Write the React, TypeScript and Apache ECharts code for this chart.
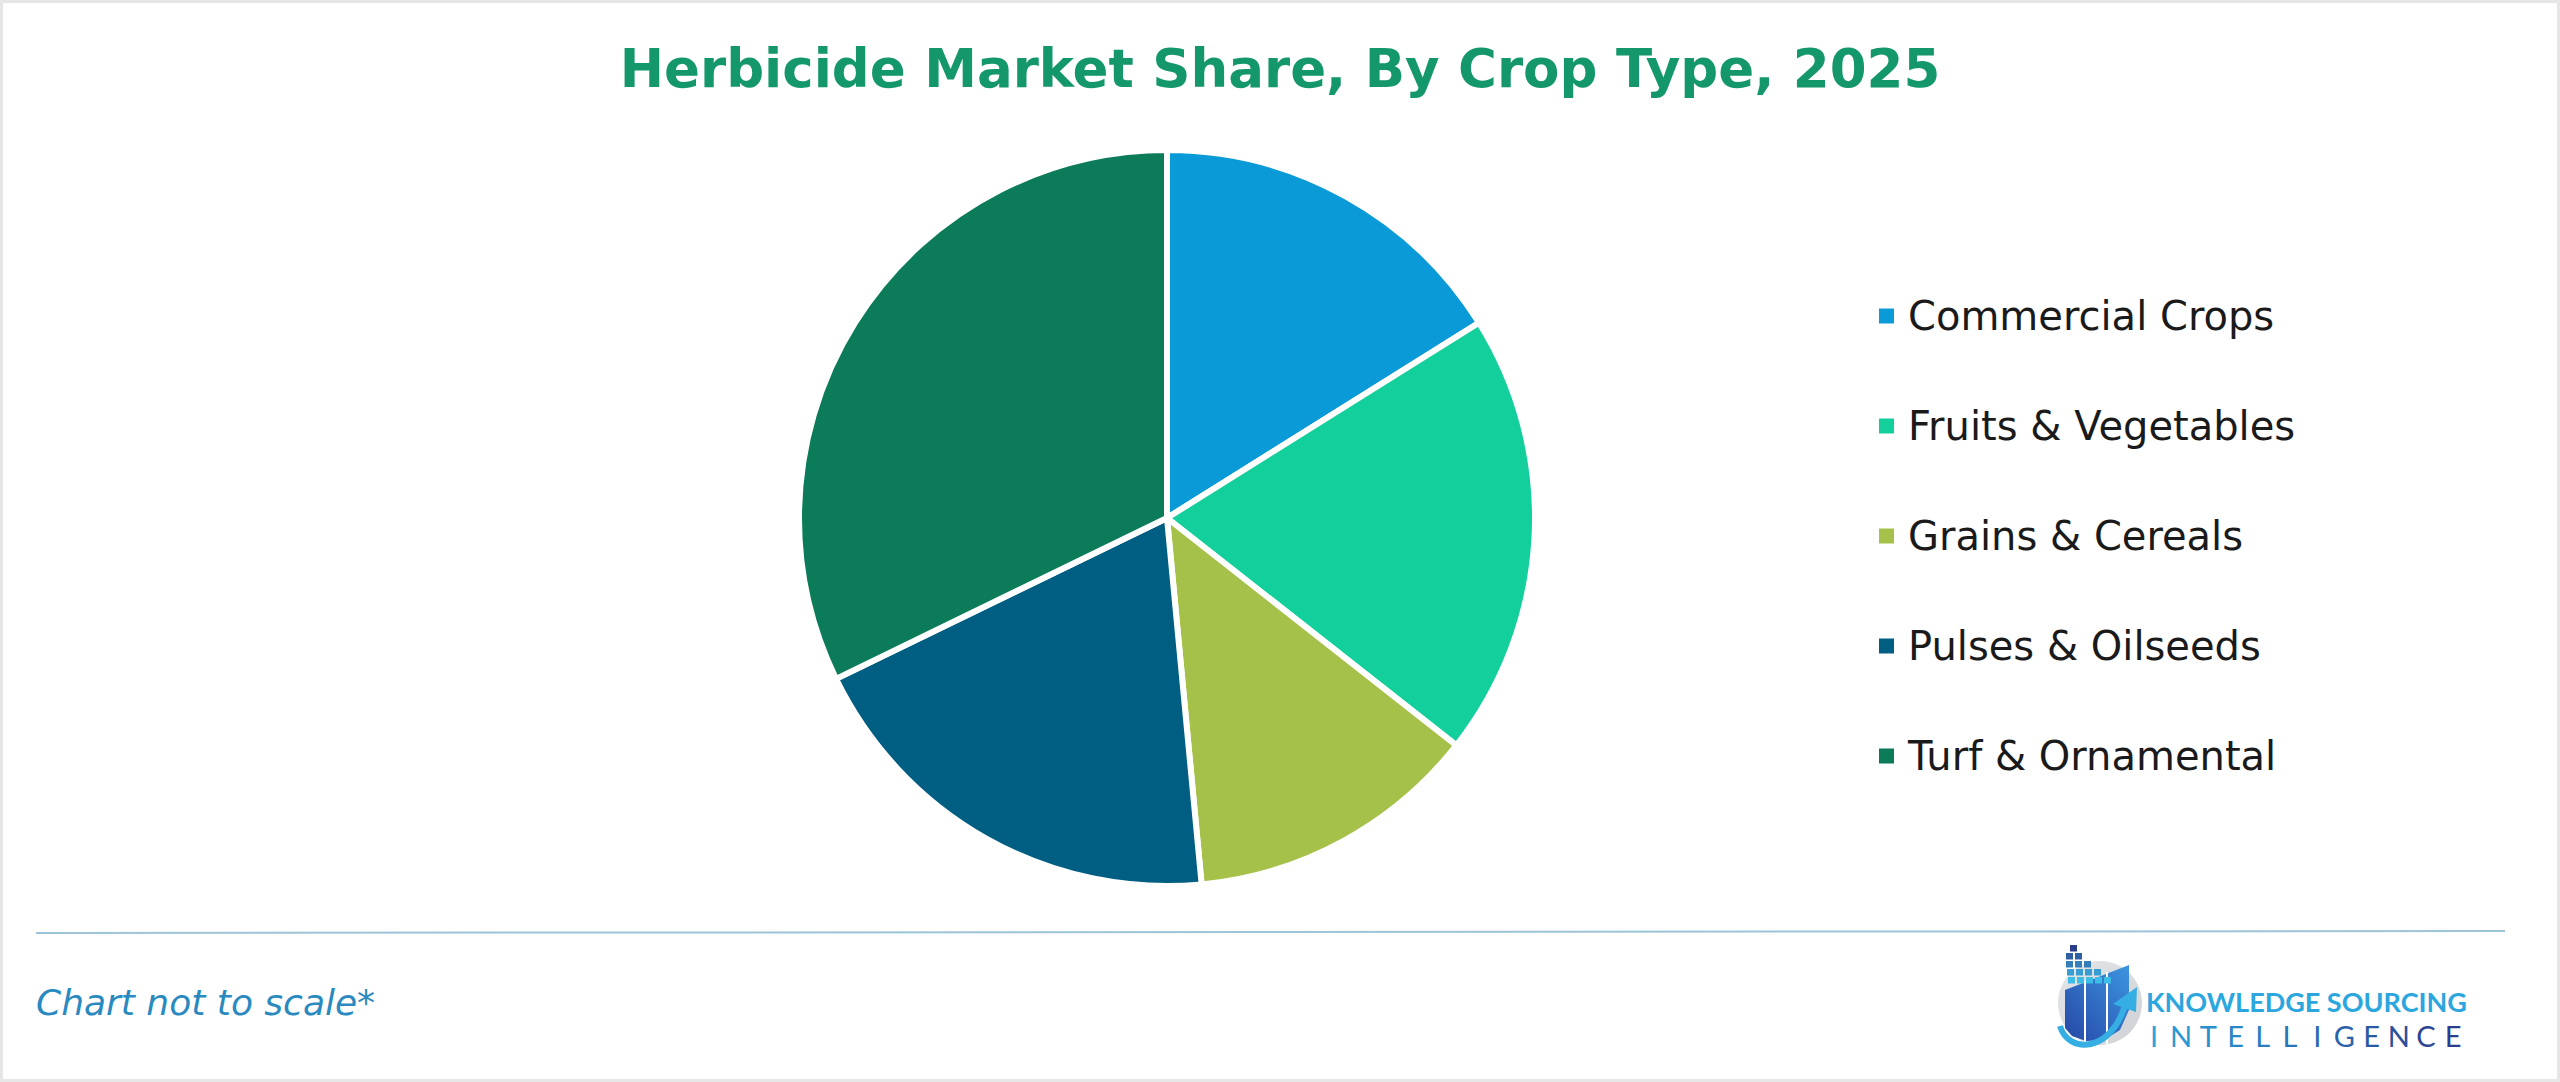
import React, { useEffect, useRef } from "react";
import * as echarts from "echarts";

const titleText = "Herbicide Market Share, By Crop Type, 2025";
const categories = [
  "Commercial Crops",
  "Fruits & Vegetables",
  "Grains & Cereals",
  "Pulses & Oilseeds",
  "Turf & Ornamental",
];
const shares = [16.1, 19.5, 12.9, 19.3, 32.2];
const colors = ["#0A9AD7", "#13CF9B", "#A5C14A", "#005E82", "#0B7B59"];
const footnote = "Chart not to scale*";
const brandTop = "KNOWLEDGE SOURCING";
const brandBottom = "INTELLIGENCE";

function lerpColor(a: string, b: string, t: number) {
  const pa = [1, 3, 5].map((i) => parseInt(a.slice(i, i + 2), 16));
  const pb = [1, 3, 5].map((i) => parseInt(b.slice(i, i + 2), 16));
  const c = pa.map((v, i) => Math.round(v + (pb[i] - v) * t));
  return "rgb(" + c.join(",") + ")";
}

export default function App() {
  const ref = useRef<HTMLDivElement>(null);
  useEffect(() => {
    if (!ref.current) return;
    const chart = echarts.init(ref.current, undefined, { renderer: "svg" });

    const logo: any[] = [];
    logo.push({
      type: "circle",
      shape: { cx: 2100, cy: 1003, r: 42 },
      style: {
        fill: new echarts.graphic.LinearGradient(0, 0, 1, 1, [
          { offset: 0, color: "#e4e5e8" },
          { offset: 1, color: "#cfd1d5" },
        ]),
      },
    });
    logo.push({
      type: "polygon",
      shape: {
        points: [
          [2065, 990],
          [2129, 965],
          [2129, 1010],
          [2120, 1030],
          [2104, 1040],
          [2086, 1041],
          [2072, 1036],
          [2065, 1028],
        ],
      },
      style: {
        fill: new echarts.graphic.LinearGradient(0, 1, 1, 0, [
          { offset: 0, color: "#2646a6" },
          { offset: 1, color: "#3c96e0" },
        ]),
      },
    });
    [2085, 2107].forEach((x) => {
      logo.push({
        type: "line",
        shape: { x1: x, y1: x === 2085 ? 981 : 972, x2: x, y2: 1044 },
        style: { stroke: "#ffffff", lineWidth: 2 },
      });
    });
    const rows = [
      { y: 945, xs: [2070] },
      { y: 953, xs: [2066, 2075] },
      { y: 961, xs: [2066, 2075, 2084] },
      { y: 969, xs: [2067, 2076, 2085, 2094] },
      { y: 977, xs: [2068, 2077, 2086, 2095, 2104] },
    ];
    rows.forEach((r, ri) => {
      r.xs.forEach((x) => {
        logo.push({
          type: "rect",
          shape: { x, y: r.y, width: 7, height: 6.5 },
          style: { fill: lerpColor("#2b3e8e", "#3cbde8", ri / 4) },
        });
      });
    });
    logo.push({
      type: "bezierCurve",
      shape: {
        x1: 2060,
        y1: 1026,
        cpx1: 2068,
        cpy1: 1054,
        cpx2: 2112,
        cpy2: 1054,
        x2: 2126,
        y2: 1002,
      },
      style: { stroke: "#35aee4", lineWidth: 6, fill: null },
    });
    logo.push({
      type: "polygon",
      shape: {
        points: [
          [2137, 987],
          [2113, 1004],
          [2136, 1012],
        ],
      },
      style: { fill: "#35aee4" },
    });
    logo.push({
      type: "text",
      x: 2146,
      y: 1001,
      style: {
        text: brandTop,
        fontSize: 27,
        fontWeight: "bold",
        fontFamily: "Lato",
        fill: "#2ba6de",
        textVerticalAlign: "middle",
        textAlign: "left",
      },
    });
    const letters = brandBottom.split("");
    letters.forEach((ch, i) => {
      logo.push({
        type: "text",
        x: 2154 + i * 27.2,
        y: 1035,
        style: {
          text: ch,
          fontSize: 29,
          fontFamily: "Lato",
          fill: lerpColor("#2aa3dc", "#2b3d8c", i / (letters.length - 1)),
          textVerticalAlign: "middle",
          textAlign: "center",
        },
      });
    });

    chart.setOption({
      animation: false,
      backgroundColor: "#ffffff",
      title: {
        text: titleText,
        left: "center",
        top: 37,
        textStyle: {
          fontFamily: "DejaVu Sans",
          fontWeight: "bold",
          fontSize: 53,
          color: "#14986B",
        },
      },
      legend: {
        orient: "vertical",
        left: 1872,
        top: 291,
        itemWidth: 17,
        itemHeight: 17,
        itemGap: 70,
        icon: "rect",
        selectedMode: false,
        data: categories,
        textStyle: {
          fontFamily: "DejaVu Sans",
          fontSize: 40,
          lineHeight: 40,
          color: "#1a1a1a",
          padding: [0, 0, 0, 8],
        },
      },
      color: colors,
      series: [
        {
          type: "pie",
          center: [1167, 518],
          radius: 368,
          startAngle: 90,
          clockwise: true,
          label: { show: false },
          labelLine: { show: false },
          emphasis: { disabled: true },
          itemStyle: { borderColor: "#ffffff", borderWidth: 6 },
          data: categories.map((c, i) => ({ name: c, value: shares[i] })),
        },
      ],
      graphic: [
        {
          type: "rect",
          shape: { x: 1.5, y: 1.5, width: 2557, height: 1079 },
          style: { fill: null, stroke: "#e6e6e6", lineWidth: 3 },
          silent: true,
        },
        {
          type: "line",
          shape: { x1: 36, y1: 933, x2: 2505, y2: 931 },
          style: { stroke: "#9cc3d8", lineWidth: 2 },
        },
        {
          type: "text",
          x: 36,
          y: 1002,
          style: {
            text: footnote,
            fontSize: 36,
            fontStyle: "italic",
            fontFamily: "DejaVu Sans",
            fill: "#2A8AC0",
            textVerticalAlign: "middle",
          },
        },
        ...logo,
      ],
    });
    return () => chart.dispose();
  }, []);
  return (
    <div
      ref={ref}
      style={{ position: "absolute", left: 0, top: 0, width: 2560, height: 1082 }}
    />
  );
}
